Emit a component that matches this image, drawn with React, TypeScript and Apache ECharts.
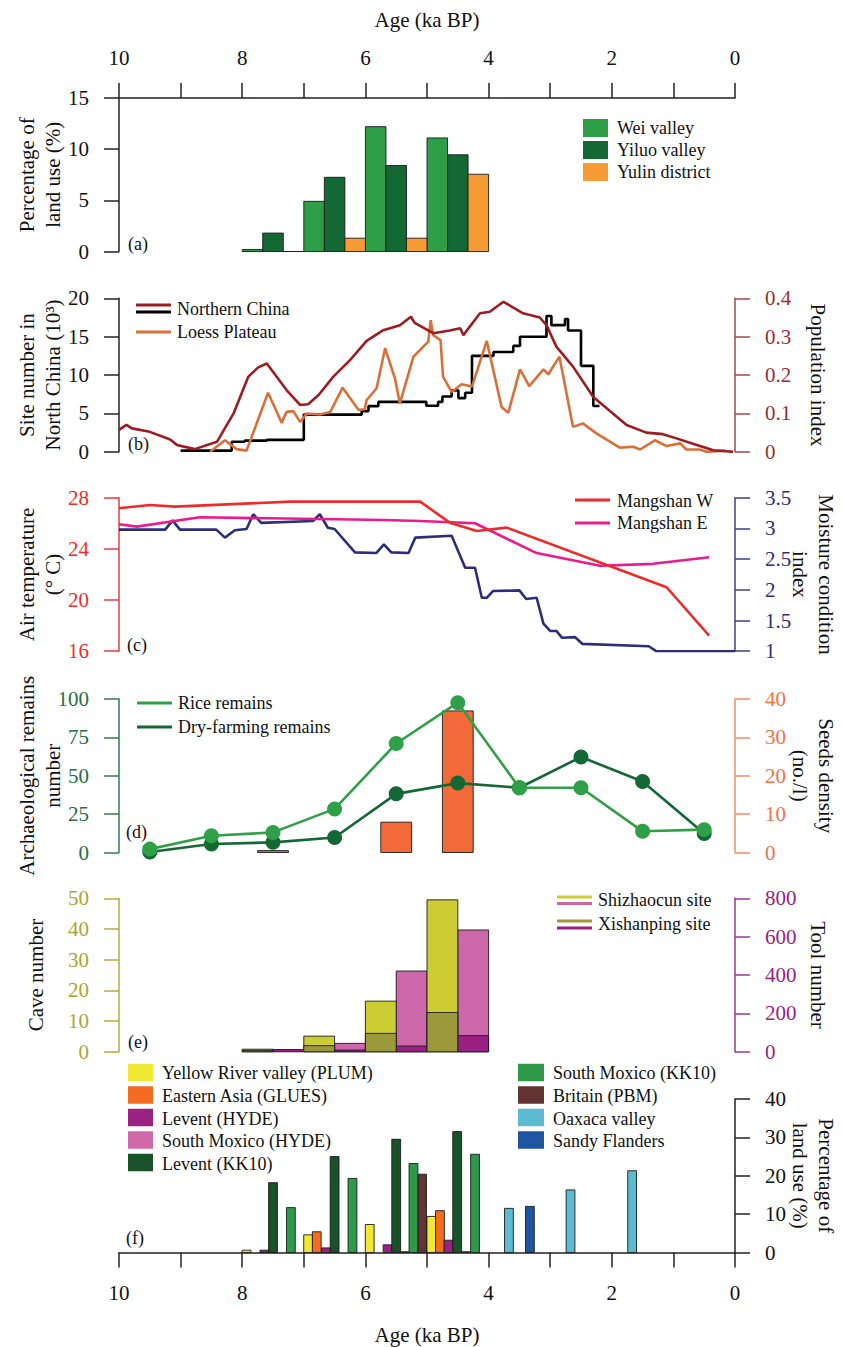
import React, { useEffect, useRef } from "react";
import * as echarts from "echarts";

const SERIF = "'Liberation Serif', 'Times New Roman', serif";

// ---------- Panel (a): percentage of land use ----------
const weiValley = [[7.833, 0.2], [6.833, 4.9], [5.833, 12.2], [4.833, 11.1]];
const yiluoValley = [[7.5, 1.8], [6.5, 7.25], [5.5, 8.4], [4.5, 9.45]];
const yulinDistrict = [[7.167, 0], [6.167, 1.3], [5.167, 1.3], [4.167, 7.55]];

// ---------- Panel (b) ----------
const northernChina = [[10.0, 0.057], [9.88, 0.07], [9.79, 0.061], [9.5, 0.052], [9.17, 0.032], [9.06, 0.018], [8.77, 0.007], [8.41, 0.026], [8.14, 0.1], [7.9, 0.196], [7.74, 0.22], [7.6, 0.23], [7.28, 0.161], [7.06, 0.122], [6.93, 0.124], [6.76, 0.148], [6.52, 0.196], [6.25, 0.239], [5.98, 0.289], [5.71, 0.317], [5.44, 0.33], [5.26, 0.352], [5.2, 0.336], [4.9, 0.309], [4.63, 0.316], [4.46, 0.322], [4.41, 0.304], [4.14, 0.361], [3.98, 0.365], [3.76, 0.391], [3.44, 0.361], [3.17, 0.35], [3.06, 0.33], [2.9, 0.274], [2.63, 0.222], [2.3, 0.143], [1.76, 0.07], [1.44, 0.05], [1.17, 0.046], [0.95, 0.035], [0.62, 0.018], [0.35, 0.004], [0.03, 0]];
const loessPlateau = [[8.52, 0], [8.28, 0.03], [8.09, 0.007], [7.93, 0.003], [7.58, 0.154], [7.36, 0.076], [7.28, 0.104], [7.17, 0.106], [7.06, 0.078], [6.95, 0.1], [6.74, 0.097], [6.57, 0.104], [6.37, 0.167], [6.11, 0.109], [6.01, 0.111], [5.98, 0.135], [5.82, 0.165], [5.68, 0.27], [5.52, 0.191], [5.44, 0.126], [5.22, 0.248], [4.98, 0.287], [4.94, 0.343], [4.9, 0.304], [4.78, 0.291], [4.74, 0.196], [4.6, 0.156], [4.44, 0.176], [4.27, 0.17], [4.03, 0.289], [3.79, 0.117], [3.68, 0.102], [3.49, 0.215], [3.34, 0.171], [3.11, 0.215], [3.03, 0.202], [2.85, 0.248], [2.63, 0.065], [2.47, 0.074], [2.25, 0.048], [1.87, 0.011], [1.65, 0.013], [1.54, 0.006], [1.3, 0.03], [1.11, 0.015], [0.89, 0.022], [0.79, 0.006], [0.57, 0.006], [0.46, 0], [0.16, 0.003]];
const siteNumber = [[9.0, 0.15], [8.17, 1.3], [7.96, 1.45], [7.6, 1.56], [7.0, 4.85], [6.06, 5.3], [5.95, 5.95], [5.79, 6.5], [5.01, 6.0], [4.82, 6.5], [4.75, 7.2], [4.6, 8.0], [4.49, 7.0], [4.38, 7.7], [4.27, 12.5], [3.92, 13.0], [3.6, 13.8], [3.49, 15.0], [3.06, 17.7], [2.98, 16.5], [2.76, 17.3], [2.71, 15.8], [2.5, 11.2], [2.3, 5.96], [2.2, 5.96]];

// ---------- Panel (c) ----------
const mangshanW = [[10, 27.17], [9.5, 27.43], [9.09, 27.3], [7.22, 27.69], [5.11, 27.69], [4.63, 26.05], [4.19, 25.4], [3.71, 25.66], [1.11, 21.0], [0.42, 17.22]];
const mangshanE = [[10, 25.93], [9.71, 25.74], [8.69, 26.47], [5.71, 26.26], [5.11, 26.18], [4.22, 26.0], [3.22, 23.67], [2.19, 22.68], [1.33, 22.83], [0.42, 23.35]];
const moistureIndex = [[10, 2.98], [9.25, 2.98], [9.13, 3.13], [9.01, 2.98], [8.42, 2.98], [8.28, 2.85], [8.12, 2.97], [7.93, 2.99], [7.82, 3.23], [7.69, 3.09], [6.85, 3.12], [6.74, 3.23], [6.61, 3.01], [6.5, 2.99], [6.17, 2.61], [5.82, 2.6], [5.7, 2.74], [5.58, 2.61], [5.3, 2.6], [5.19, 2.85], [4.6, 2.88], [4.38, 2.36], [4.22, 2.36], [4.11, 1.87], [4.03, 1.87], [3.93, 1.98], [3.5, 1.99], [3.39, 1.85], [3.22, 1.87], [3.11, 1.45], [3.0, 1.33], [2.9, 1.33], [2.81, 1.22], [2.6, 1.23], [2.48, 1.12], [1.4, 1.08], [1.28, 1.0], [0.0, 1.0]];

// ---------- Panel (d) ----------
const remainAges = [9.5, 8.5, 7.5, 6.5, 5.5, 4.5, 3.5, 2.5, 1.5, 0.5];
const riceRemains = [2.2, 10.9, 13.1, 28.4, 71.0, 97.6, 42.2, 42.2, 13.8, 14.9];
const dryFarmingRemains = [0.3, 5.5, 6.6, 9.8, 38.2, 45.2, 42.2, 62.2, 46.3, 12.4];
const seedsDensity = [[7.5, 0.5], [5.5, 7.9], [4.5, 36.9]];

// ---------- Panel (e) ----------
const shizhaocunCave = [[7.75, 0.85], [6.75, 5.1], [5.75, 16.5], [4.75, 49.5]];
const xishanpingCave = [[7.75, 0.45], [6.75, 2.0], [5.75, 6.0], [4.75, 12.8]];
const shizhaocunTool = [[6.25, 44], [5.25, 421], [4.25, 635]];
const xishanpingTool = [[7.25, 12], [6.25, 9], [5.25, 30], [4.25, 84]];

// ---------- Panel (f) ----------
const yellowRiverPLUM = [[7.93, 0.6], [6.93, 4.6], [5.93, 7.3], [4.93, 9.4]];
const easternAsiaGLUES = [[6.79, 5.4], [4.79, 10.9]];
const leventHYDE = [[7.64, 0.6], [6.64, 1.2], [5.64, 2.0], [4.65, 3.2]];
const southMoxicoHYDE = [[5.36, 0.2], [4.36, 0.2]];
const leventKK10 = [[7.5, 18.2], [6.5, 25.0], [5.5, 29.5], [4.51, 31.5]];
const southMoxicoKK10 = [[7.21, 11.7], [6.21, 19.3], [5.22, 23.2], [4.22, 25.6]];
const britainPBM = [[5.08, 20.4]];
const oaxacaValley = [[3.67, 11.5], [2.67, 16.3], [1.67, 21.3]];
const sandyFlanders = [[3.33, 12.0]];

const xTicks = [10, 8, 6, 4, 2, 0];

const C = {
  wei: "#2e9f48", yiluo: "#146834", yulin: "#f79b34",
  nc: "#9b1d22", loess: "#d8703a",
  mw: "#ee2b2b", me: "#ec1a8a", moist: "#2c2e7c",
  rice: "#2f9f48", dry: "#146834", seeds: "#f26a38",
  shizC: "#cccc33", xishC: "#9a9a3a", shizT: "#cc67a9", xishT: "#9a2183",
  plum: "#f0e832", glues: "#f46b22", lhyde: "#9b2283", smhyde: "#d068aa",
  lkk: "#175229", smkk: "#2c9a48", pbm: "#633434", oax: "#5cbbd0", sandy: "#1f55a0",
};

function bars(name: string, data: number[][], color: string, width: number, xi: number, yi: number, z = 2) {
  return {
    type: "custom", name, data, xAxisIndex: xi, yAxisIndex: yi, z,
    encode: { x: 0, y: 1 },
    itemStyle: { color },
    renderItem: (_p: any, api: any) => {
      const x = api.value(0);
      const y = api.value(1);
      const a = api.coord([x + width / 2, y]);
      const b = api.coord([x - width / 2, 0]);
      return {
        type: "rect",
        shape: { x: Math.min(a[0], b[0]), y: Math.min(a[1], b[1]), width: Math.abs(b[0] - a[0]), height: Math.abs(b[1] - a[1]) },
        style: { fill: color, stroke: "#1b1b1b", lineWidth: 0.9 },
      };
    },
  };
}

function line(name: string, data: number[][], color: string, xi: number, yi: number, extra: any = {}) {
  return { type: "line", name, data, xAxisIndex: xi, yAxisIndex: yi, showSymbol: false, symbol: "none", lineStyle: { color, width: 2.6 }, itemStyle: { color }, z: 3, ...extra };
}

const GRID_TOPS = [98, 298.3, 497.7, 699, 898.3, 1099];
const GRID_H = 153.5;

function xAxis(gridIndex: number, show: boolean, position: "top" | "bottom") {
  return {
    type: "value", gridIndex, min: 0, max: 10, interval: 1, inverse: true, position, show,
    axisLine: { show: true, onZero: false, lineStyle: { color: "#222", width: 1.5 } },
    axisTick: { show: true, inside: false, length: 15, lineStyle: { color: "#222", width: 1.5 } },
    axisLabel: {
      margin: 30, fontSize: 21, fontFamily: SERIF, color: "#111",
      formatter: (v: number) => (xTicks.indexOf(v) >= 0 ? String(v) : ""),
    },
    splitLine: { show: false },
    name: "Age (ka BP)", nameLocation: "middle", nameGap: position === "top" ? 68 : 72,
    nameMoveOverlap: false,
    nameTextStyle: { fontSize: 21, fontFamily: SERIF, color: "#111" },
  };
}

function yAxis(gridIndex: number, position: "left" | "right", min: number, max: number, interval: number, color: string, labelColor: string, name: string, nameGap: number) {
  return {
    type: "value", gridIndex, position, min, max, interval,
    axisLine: { show: true, onZero: false, lineStyle: { color, width: 1.5 } },
    axisTick: { show: true, inside: false, length: 15, lineStyle: { color, width: 1.5 } },
    axisLabel: { margin: 30, fontSize: 21, fontFamily: SERIF, color: labelColor },
    splitLine: { show: false },
    name, nameLocation: "middle", nameGap, nameRotate: position === "left" ? 90 : -90,
    nameMoveOverlap: false,
    nameTextStyle: { fontSize: 21, fontFamily: SERIF, color: "#111", lineHeight: 26 },
  };
}

function txt(text: string, x: number, y: number, size = 18) {
  return { type: "text", x, y, style: { text, fontSize: size, fontFamily: SERIF, fill: "#111", verticalAlign: "middle", align: "left" } };
}
function seg(x1: number, x2: number, y: number, color: string) {
  return { type: "line", shape: { x1, y1: y, x2, y2: y }, style: { stroke: color, lineWidth: 3 } };
}
function sq(x: number, yc: number, w: number, h: number, color: string) {
  return { type: "rect", shape: { x, y: yc - h / 2, width: w, height: h }, style: { fill: color } };
}

export default function App() {
  const ref = useRef<HTMLDivElement>(null);
  useEffect(() => {
    if (!ref.current) return;
    const chart = echarts.init(ref.current, undefined, { renderer: "svg" });
    const option: any = {
      animation: false,
      backgroundColor: "#fff",
      grid: GRID_TOPS.map((t) => ({ left: 119, right: 108, top: t, height: GRID_H, containLabel: false, outerBoundsMode: "none" })),
      xAxis: [
        xAxis(0, true, "top"),
        xAxis(1, false, "bottom"),
        xAxis(2, false, "bottom"),
        xAxis(3, false, "bottom"),
        xAxis(4, false, "bottom"),
        xAxis(5, true, "bottom"),
      ],
      yAxis: [
        yAxis(0, "left", 0, 15, 5, "#222", "#111", "Percentage of\nland use (%)", 53),
        yAxis(1, "left", 0, 20, 5, "#222", "#111", "Site number in\nNorth China (10³)", 53),
        yAxis(1, "right", 0, 0.4, 0.1, "#a84446", "#a02c30", "Population index", 70),
        yAxis(2, "left", 16, 28, 4, "#ee3b3f", "#ee2b2b", "Air temperature\n(° C)", 53),
        yAxis(2, "right", 1, 3.5, 0.5, "#3d3f88", "#2c2e7c", "Moisture condition\nindex", 52),
        yAxis(3, "left", 0, 100, 25, "#2f7d50", "#256f40", "Archaeological remains\nnumber", 53),
        yAxis(3, "right", 0, 40, 10, "#f58a66", "#f07048", "Seeds density\n(no./l)", 52),
        yAxis(4, "left", 0, 50, 10, "#b0ae3c", "#a8a630", "Cave number", 70),
        yAxis(4, "right", 0, 800, 200, "#a0358f", "#9a2183", "Tool number", 70),
        yAxis(5, "right", 0, 40, 10, "#222", "#111", "Percentage of\nland use (%)", 52),
      ],
      series: [
        bars("Wei valley", weiValley, C.wei, 1 / 3, 0, 0),
        bars("Yiluo valley", yiluoValley, C.yiluo, 1 / 3, 0, 0),
        bars("Yulin district", yulinDistrict, C.yulin, 1 / 3, 0, 0),

        line("Site number", siteNumber, "#000", 1, 1, { step: "end" }),
        line("Loess Plateau", loessPlateau, C.loess, 1, 2),
        line("Northern China", northernChina, C.nc, 1, 2),

        line("Moisture condition index", moistureIndex, C.moist, 2, 4),
        line("Mangshan E", mangshanE, C.me, 2, 3),
        line("Mangshan W", mangshanW, C.mw, 2, 3),

        bars("Seeds density", seedsDensity, C.seeds, 0.5, 3, 6),
        line("Dry-farming remains", remainAges.map((a, i) => [a, dryFarmingRemains[i]]), C.dry, 3, 5, { showSymbol: true, symbol: "circle", symbolSize: 15 }),
        line("Rice remains", remainAges.map((a, i) => [a, riceRemains[i]]), C.rice, 3, 5, { showSymbol: true, symbol: "circle", symbolSize: 15, z: 4 }),

        bars("Shizhaocun tool", shizhaocunTool, C.shizT, 0.5, 4, 8),
        bars("Xishanping tool", xishanpingTool, C.xishT, 0.5, 4, 8, 3),
        bars("Shizhaocun cave", shizhaocunCave, C.shizC, 0.5, 4, 7),
        bars("Xishanping cave", xishanpingCave, C.xishC, 0.5, 4, 7, 3),

        bars("Yellow River valley (PLUM)", yellowRiverPLUM, C.plum, 1 / 7, 5, 9),
        bars("Eastern Asia (GLUES)", easternAsiaGLUES, C.glues, 1 / 7, 5, 9),
        bars("Britain (PBM)", britainPBM, C.pbm, 1 / 7, 5, 9),
        bars("Levent (HYDE)", leventHYDE, C.lhyde, 1 / 7, 5, 9),
        bars("South Moxico (HYDE)", southMoxicoHYDE, C.smhyde, 1 / 7, 5, 9),
        bars("Levent (KK10)", leventKK10, C.lkk, 1 / 7, 5, 9),
        bars("South Moxico (KK10)", southMoxicoKK10, C.smkk, 1 / 7, 5, 9),
        bars("Oaxaca valley", oaxacaValley, C.oax, 1 / 7, 5, 9),
        bars("Sandy Flanders", sandyFlanders, C.sandy, 1 / 7, 5, 9),
      ],
      graphic: [
        // panel labels
        txt("(a)", 128, 244), txt("(b)", 128, 444), txt("(c)", 127, 645),
        txt("(d)", 126, 832), txt("(e)", 128, 1042), txt("(f)", 126, 1238),
        // legend (a)
        sq(583, 128, 25, 18, C.wei), txt("Wei valley", 617, 128),
        sq(583, 150, 25, 18, C.yiluo), txt("Yiluo valley", 617, 150),
        sq(583, 172, 25, 18, C.yulin), txt("Yulin district", 617, 172),
        // legend (b)
        seg(136, 171, 305, C.nc), seg(136, 171, 312, "#000"), txt("Northern China", 177, 309),
        seg(136, 171, 332, C.loess), txt("Loess Plateau", 177, 332),
        // legend (c)
        seg(575, 610, 500, C.mw), txt("Mangshan W", 617, 501),
        seg(575, 610, 523, C.me), txt("Mangshan E", 617, 523),
        // legend (d)
        seg(137, 172, 703, C.rice), txt("Rice remains", 178, 703),
        seg(137, 172, 727, C.dry), txt("Dry-farming remains", 178, 727),
        // legend (e)
        seg(557, 592, 897, C.shizC), seg(557, 592, 903.5, C.shizT), txt("Shizhaocun site", 598, 900),
        seg(557, 592, 921, C.xishC), seg(557, 592, 928, C.xishT), txt("Xishanping site", 598, 924),
        // legend (f)
        sq(128, 1072.5, 25, 17.5, C.plum), txt("Yellow River valley (PLUM)", 162, 1073),
        sq(128, 1095, 25, 17.5, C.glues), txt("Eastern Asia (GLUES)", 162, 1096),
        sq(128, 1117.5, 25, 17.5, C.lhyde), txt("Levent (HYDE)", 162, 1118.5),
        sq(128, 1140, 25, 17.5, C.smhyde), txt("South Moxico (HYDE)", 162, 1141),
        sq(128, 1162.5, 25, 17.5, C.lkk), txt("Levent (KK10)", 162, 1163.5),
        sq(518, 1072.5, 26, 17.5, C.smkk), txt("South Moxico (KK10)", 553, 1073),
        sq(518, 1095, 26, 17.5, C.pbm), txt("Britain (PBM)", 553, 1096),
        sq(518, 1117.5, 26, 17.5, C.oax), txt("Oaxaca valley", 553, 1118.5),
        sq(518, 1140, 26, 17.5, C.sandy), txt("Sandy Flanders", 553, 1141),
      ],
    };
    chart.setOption(option);
    return () => chart.dispose();
  }, []);
  return <div ref={ref} style={{ position: "absolute", left: 0, top: 0, width: 843, height: 1347 }} />;
}
